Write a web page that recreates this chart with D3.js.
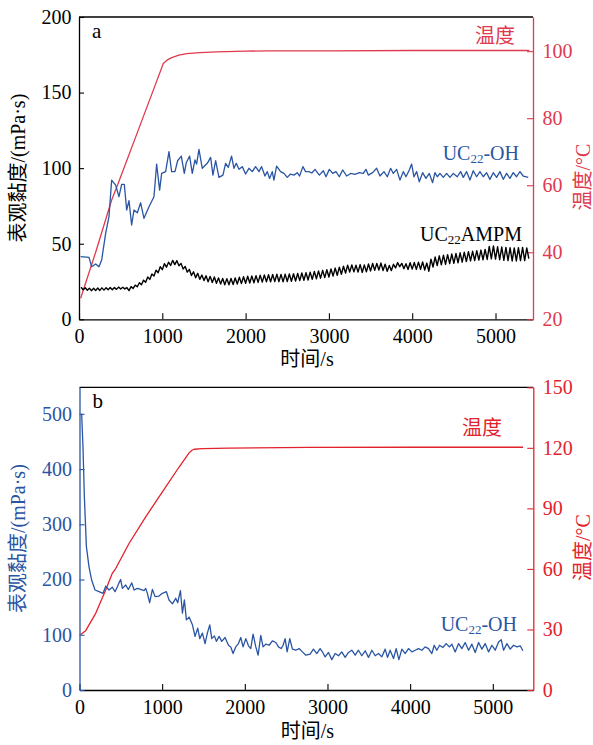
<!DOCTYPE html>
<html><head><meta charset="utf-8">
<script src="https://cdn.jsdelivr.net/npm/d3@7"></script>
<style>body{margin:0;background:#fff}</style>
</head><body><svg id="c" width="593" height="745" xmlns="http://www.w3.org/2000/svg"></svg>
<script>
// ---------- Panel a data ----------
const xTicks = [0, 1000, 2000, 3000, 4000, 5000];
const aLeftTicks = [0, 50, 100, 150, 200];
const aRightTicks = [20, 40, 60, 80, 100];
const bLeftTicks = [0, 100, 200, 300, 400, 500];
const bRightTicks = [0, 30, 60, 90, 120, 150];

const aTempTime = [20, 200, 392, 472, 700, 900, 1012, 1060, 1113, 1200, 1293, 1450, 1653, 2000, 2253, 3000, 4000, 5406];
const aTemp = [26.3, 40.0, 55.6, 60.7, 75.7, 88.9, 96.3, 97.4, 98.1, 98.8, 99.3, 99.6, 99.8, 100.0, 100.1, 100.1, 100.2, 100.2];

const aOHTime = [20,120,152,200,240,272,320,360,392,440,
480,512,544,572,600,632,660,700,740,780,
840,900,932,968,992,1040,1080,1112,1152,1184,
1228,1264,1288,1328,1360,1392,1412,1440,1480,1540,
1580,1608,1640,1680,1728,1760,1792,1832,1860,1888,
1920,1960,2000,2040,2080,2120,2160,2192,2232,2260,
2288,2320,2340,2372,2420,2460,2500,2540,2580,2620,
2648,2688,2720,2760,2795,2833,2885,2933,2965,3005,
3045,3085,3125,3165,3213,3261,3313,3365,3413,3445,
3473,3525,3573,3613,3661,3701,3741,3773,3813,3853,
3893,3925,3965,3993,4021,4053,4085,4125,4165,4205,
4245,4273,4301,4333,4373,4413,4453,4493,4541,4581,
4613,4653,4693,4733,4773,4813,4853,4893,4933,4973,
5013,5053,5093,5133,5173,5213,5253,5293,5333,5393];
const aOHVisc = [41.4,41,34.8,36.6,34.8,39.2,56.9,67.9,92.1,88.8,
81.1,89.3,89.3,72.3,78.5,62.4,72.3,70.5,77.1,66.8,
74.5,81.1,102.7,85.5,96.5,97.7,110.9,97.7,97.7,104.9,
108,96.5,103.6,108,96.5,105.4,102.7,112.4,99.9,103.2,
107.1,95.4,104.9,93.9,95.4,103.2,100.5,108,99.9,103.2,
99.2,101,96.1,99.9,97.7,101,97.7,101,94.8,97.7,
93.2,97.7,92.1,101.4,97.7,96.5,93.9,96.1,95.4,97,
94.8,101,97.7,97.7,96.8,99.2,95.4,98.3,94.3,99.2,
96.5,97.7,94.3,98.8,94.8,96.5,95.9,97,96.5,99.2,
95.4,97,99.9,94.8,97.7,94.3,99.9,96.5,99.2,92.1,
97.7,94.3,98.8,102.7,94.3,97.7,91,97,93.2,96.5,
90.4,97,94.3,96.5,93.9,96.5,93.9,96.5,94.3,97.7,
93.9,97.7,92.1,98.3,94.3,97.7,94.3,97,92.6,97,
93.9,97.7,92.6,96.5,93.2,97,94.3,97.7,94.8,93.9];

const aAMPMTime = [25,50,75,100,125,150,175,200,225,250,275,300,325,350,375,400,425,450,475,500,
525,550,575,600,625,650,675,700,725,750,775,800,825,850,875,900,925,950,975,1000,
1025,1050,1075,1100,1125,1150,1175,1200,1225,1250,1275,1300,1325,1350,1375,1400,1425,1450,1475,1500,
1525,1550,1575,1600,1625,1650,1675,1700,1725,1750,1775,1800,1825,1850,1875,1900,1925,1950,1975,2000,
2025,2050,2075,2100,2125,2150,2175,2200,2225,2250,2275,2300,2325,2350,2375,2400,2425,2450,2475,2500,
2525,2550,2575,2600,2625,2650,2675,2700,2725,2750,2775,2800,2825,2850,2875,2900,2925,2950,2975,3000,
3025,3050,3075,3100,3125,3150,3175,3200,3225,3250,3275,3300,3325,3350,3375,3400,3425,3450,3475,3500,
3525,3550,3575,3600,3625,3650,3675,3700,3725,3750,3775,3800,3825,3850,3875,3900,3925,3950,3975,4000,
4025,4050,4075,4100,4125,4150,4175,4200,4225,4250,4275,4300,4325,4350,4375,4400,4425,4450,4475,4500,
4525,4550,4575,4600,4625,4650,4675,4700,4725,4750,4775,4800,4825,4850,4875,4900,4925,4950,4975,5000,
5025,5050,5075,5100,5125,5150,5175,5200,5225,5250,5275,5300,5325,5350,5375,5400];
const aAMPMVisc = [21.2,19.6,20.9,19.2,20.6,18.9,20.5,19.0,
20.7,19.1,20.8,19.3,20.9,19.5,21.0,19.6,
21.1,19.8,21.3,20.0,21.2,20.1,21.0,19.0,
21.6,20.4,22.6,21.5,24.2,22.8,25.9,24.5,
28.0,26.4,30.0,28.6,32.5,30.8,34.8,32.8,
36.8,34.5,37.8,35.6,39.0,36.2,38.8,35.4,
37.0,33.3,35.0,31.2,33.0,29.0,31.4,27.5,
30.4,26.4,29.3,25.6,28.8,24.8,28.4,24.4,
28.0,23.8,27.4,23.3,27.0,22.9,26.9,22.8,
27.0,23.0,27.3,23.3,27.8,23.6,28.2,23.8,
28.5,24.0,28.6,24.2,28.9,24.4,29.2,24.6,
29.4,24.8,29.5,24.8,29.6,24.9,29.8,24.9,
29.7,24.8,29.9,25.0,30.0,25.1,30.1,25.3,
30.4,25.6,30.6,25.8,30.9,26.0,31.2,26.4,
31.6,26.8,32.0,27.2,32.4,27.6,32.8,28.0,
33.3,28.6,33.9,29.1,34.5,29.8,35.1,30.6,
35.8,31.3,36.0,31.4,35.8,31.2,36.2,31.0,
36.0,31.4,36.6,32.0,36.9,32.4,37.0,32.6,
37.2,32.3,36.5,31.8,35.6,32.2,36.4,34.0,
37.5,34.8,37.0,33.5,36.8,33.0,37.4,33.2,
37.6,33.0,37.8,33.1,38.0,32.6,37.2,31.8,
39.8,34.6,41.2,35.6,42.0,36.0,42.4,36.4,
42.8,36.8,43.2,37.0,43.6,37.4,44.0,37.8,
44.4,38.2,44.8,38.6,45.0,38.9,45.4,39.2,
45.8,39.4,46.2,39.6,48.2,40.0,48.6,39.8,
48.0,39.4,47.8,39.0,47.6,38.8,47.4,38.6,
47.2,38.6,47.4,38.8,47.6,38.8,47.2,40.2];

// ---------- Panel b data ----------
const bTempTime = [14, 75, 196, 317, 397, 438, 599, 801, 1003, 1205, 1326, 1360, 1386, 1487, 1810, 2778, 4000, 5366];
const bTemp = [27.5, 29.4, 38, 49.5, 57.8, 60.2, 72.6, 85.8, 98.2, 110.5, 117.5, 118.8, 119.3, 119.6, 119.9, 120.2, 120.3, 120.3];

const bOHTime = [26,42,59,83,115,147,188,236,285,317,
357,397,430,458,478,498,519,559,591,632,
660,700,740,781,801,821,849,882,914,962,
1003,1051,1083,1124,1164,1188,1221,1245,1269,1293,
1326,1366,1398,1430,1455,1487,1519,1547,1576,1600,
1632,1656,1689,1721,1761,1802,1830,1858,1890,1923,
1951,1979,2012,2044,2072,2100,2133,2161,2193,2221,
2254,2294,2334,2375,2407,2439,2463,2488,2512,2544,
2576,2617,2657,2697,2738,2790,2830,2871,2911,2943,
2972,3012,3052,3093,3133,3173,3214,3254,3294,3335,
3375,3415,3456,3496,3537,3577,3617,3658,3698,3726,
3758,3799,3831,3864,3900,3940,3980,4021,4061,4101,
4142,4182,4222,4263,4291,4323,4356,4396,4436,4477,
4505,4545,4586,4626,4666,4707,4747,4787,4828,4868,
4908,4949,4989,5029,5070,5102,5130,5171,5211,5251,
5292,5332,5364];
const bOHVisc = [500,441,350,260,223,199,181,178,175,188,
181,186,178,187,194,200,184,190,182,194,
181,184,182,180,184,175,158,182,169,170,
175,178,163,156,166,158,180,139,163,127,
132,118,97,112,93,103,84,103,118,93,
98,88,97,88,95,81,78,66,78,84,
95,78,93,80,75,101,78,63,99,78,
83,81,89,86,78,75,81,93,69,93,
74,72,75,69,63,65,74,66,75,68,
60,68,55,66,62,69,59,68,72,63,
72,62,71,59,72,62,66,60,74,59,
72,57,75,55,74,66,75,69,72,75,
72,78,75,66,81,72,81,77,84,78,
83,69,84,75,86,72,83,68,86,74,
84,69,81,72,87,91,72,84,74,81,
78,80,71];

// ---------- drawing ----------
const svg = d3.select('#c');
const SERIF = '"Liberation Serif","Times New Roman",serif';
const MIXED = '"Liberation Serif","Noto Sans CJK SC",serif';
const CJK = '"Noto Sans CJK SC","Liberation Serif",sans-serif';
const BLUE = '#2a55a3';
const RED_A = '#e03a4f';
const RED_B = '#e2222c';

function zip(t, v) { const n = Math.min(t.length, v.length); const r = []; for (let i = 0; i < n; i++) r.push([t[i], v[i]]); return r; }

function panel(c) {
  const x = d3.scaleLinear().domain([0, c.xMax]).range([c.left, c.right]);
  const yL = d3.scaleLinear().domain(c.yL).range([c.bottom, c.top]);
  const yR = d3.scaleLinear().domain(c.yR).range([c.bottom, c.top]);
  const g = svg.append('g');

  const styleAxis = (sel, color) => {
    sel.selectAll('path.domain').attr('stroke', color).attr('stroke-width', 1.3);
    sel.selectAll('.tick line').attr('stroke', color).attr('stroke-width', 1.1);
    sel.selectAll('.tick text').attr('fill', color).style('font-family', SERIF).style('font-size', '20px');
  };

  // top border
  g.append('line').attr('x1', c.left).attr('x2', c.right).attr('y1', c.top).attr('y2', c.top)
    .attr('stroke', '#000').attr('stroke-width', 1.3);

  const ax = g.append('g').attr('transform', `translate(0,${c.bottom})`)
    .call(d3.axisBottom(x).tickValues(xTicks).tickFormat(d3.format('d')).tickSizeInner(-6).tickSizeOuter(0).tickPadding(9.5));
  styleAxis(ax, '#000');

  const al = g.append('g').attr('transform', `translate(${c.left},0)`)
    .call(d3.axisLeft(yL).tickValues(c.yLTicks).tickSizeInner(-5).tickSizeOuter(0).tickPadding(7.5));
  styleAxis(al, c.leftColor);

  const ar = g.append('g').attr('transform', `translate(${c.right},0)`)
    .call(d3.axisRight(yR).tickValues(c.yRTicks).tickSizeInner(-6).tickSizeOuter(0).tickPadding(9.5));
  styleAxis(ar, c.rightColor);

  // series
  c.series.forEach(s => {
    const sc = s.axis === 'R' ? yR : yL;
    g.append('path').datum(zip(s.t, s.v))
      .attr('fill', 'none').attr('stroke', s.color).attr('stroke-width', s.w)
      .attr('stroke-linejoin', 'round')
      .attr('d', d3.line().x(d => x(d[0])).y(d => sc(d[1])));
  });

  // axis titles
  g.append('text').attr('x', (c.left + c.right) / 2 + 1).attr('y', c.xTitleY)
    .attr('text-anchor', 'middle').style('font-family', MIXED).style('font-size', '20px').attr('fill', '#000')
    .text('时间/s');
  g.append('text').attr('transform', `translate(${c.yLTitleX},${(c.top + c.bottom) / 2}) rotate(-90)`)
    .attr('text-anchor', 'middle').attr('dominant-baseline', 'central')
    .style('font-family', MIXED).style('font-size', '20px').attr('fill', c.leftColor)
    .text('表观黏度/(mPa·s)');
  g.append('text').attr('transform', `translate(${c.yRTitleX},${(c.top + c.bottom) / 2 + 9}) rotate(-90)`)
    .attr('text-anchor', 'middle').attr('dominant-baseline', 'central')
    .style('font-family', MIXED).style('font-size', '20px').attr('fill', c.rightColor)
    .text('温度/°C');

  // panel letter
  g.append('text').attr('x', c.left + 13).attr('y', c.top + 21)
    .style('font-family', SERIF).style('font-size', '21px').attr('fill', '#000').text(c.letter);

  return { g, x, yL, yR };
}

function subLabel(g, xEnd, yBase, pre, post, color) {
  const t = g.append('text').attr('x', xEnd).attr('y', yBase).attr('text-anchor', 'end')
    .style('font-family', SERIF).style('font-size', '20px').attr('fill', color);
  t.append('tspan').text(pre);
  t.append('tspan').attr('dy', 3).style('font-size', '13px').text('22');
  t.append('tspan').attr('dy', -3).text(post);
}

// Panel a
const pa = panel({
  left: 79, right: 533, top: 17, bottom: 319.3, xMax: 5450,
  yL: [0, 200], yLTicks: aLeftTicks, yR: [20, 110.2], yRTicks: aRightTicks,
  leftColor: '#000', rightColor: RED_A, letter: 'a',
  xTitleY: 366, yLTitleX: 18, yRTitleX: 583,
  series: [
    { t: aTempTime, v: aTemp, axis: 'R', color: RED_A, w: 1.3 },
    { t: aOHTime, v: aOHVisc, axis: 'L', color: BLUE, w: 1.3 },
    { t: aAMPMTime, v: aAMPMVisc, axis: 'L', color: '#000', w: 1.4 }
  ]
});
pa.g.append('text').attr('x', 515).attr('y', 43).attr('text-anchor', 'end')
  .style('font-family', CJK).style('font-size', '20px').attr('fill', RED_A).text('温度');
subLabel(pa.g, 519, 160, 'UC', '-OH', BLUE);
subLabel(pa.g, 522, 240.5, 'UC', 'AMPM', '#000');

// Panel b
const pb = panel({
  left: 79.5, right: 533.3, top: 387.3, bottom: 690, xMax: 5490,
  yL: [0, 548], yLTicks: bLeftTicks, yR: [0, 150], yRTicks: bRightTicks,
  leftColor: BLUE, rightColor: RED_B, letter: 'b',
  xTitleY: 738, yLTitleX: 18, yRTitleX: 583,
  series: [
    { t: bTempTime, v: bTemp, axis: 'R', color: RED_B, w: 1.3 },
    { t: bOHTime, v: bOHVisc, axis: 'L', color: BLUE, w: 1.3 }
  ]
});
pb.g.append('text').attr('x', 502).attr('y', 435).attr('text-anchor', 'end')
  .style('font-family', CJK).style('font-size', '20px').attr('fill', RED_B).text('温度');
subLabel(pb.g, 517, 631, 'UC', '-OH', BLUE);
</script>
</body></html>
